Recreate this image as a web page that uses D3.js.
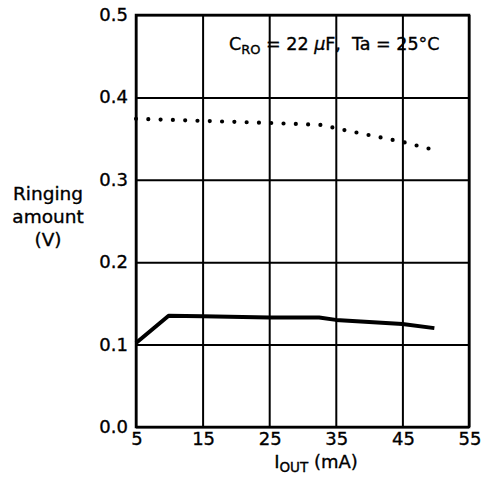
<!DOCTYPE html>
<html><head><meta charset="utf-8">
<script src="https://cdn.jsdelivr.net/npm/d3@7"></script>
<style>
body{margin:0;background:#fff;}
text{font-family:"DejaVu Sans",sans-serif;fill:#000;stroke:#000;stroke-width:0.35px;white-space:pre;}
</style></head>
<body>
<svg id="c" width="482" height="479"></svg>
<script>
const xTicks = [5, 15, 25, 35, 45, 55];
const yTicks = [0.0, 0.1, 0.2, 0.3, 0.4, 0.5];
const yTickLabels = ["0.0", "0.1", "0.2", "0.3", "0.4", "0.5"];
const solidX = [5, 9.9, 15, 25, 32.5, 35, 45, 49.8];
const solidY = [0.102, 0.135, 0.1345, 0.133, 0.133, 0.130, 0.125, 0.120];
const dotX = [5, 15, 25, 33, 35, 45, 49.9];
const dotY = [0.374, 0.3715, 0.369, 0.3665, 0.3625, 0.346, 0.336];

const svg = d3.select("#c");
const L = 136, R = 469, T = 15, B = 427;
const x = d3.scaleLinear().domain([5, 55]).range([L, R]);
const y = d3.scaleLinear().domain([0, 0.5]).range([B, T]);

// grid
const gx = svg.append("g").attr("transform", `translate(0,${B})`)
  .call(d3.axisBottom(x).tickValues(xTicks).tickSize(-(B - T)).tickFormat(""));
gx.select(".domain").remove();
gx.selectAll("line").attr("stroke", "#000").attr("stroke-width", 2);
const gy = svg.append("g").attr("transform", `translate(${L},0)`)
  .call(d3.axisLeft(y).tickValues(yTicks).tickSize(-(R - L)).tickFormat(""));
gy.select(".domain").remove();
gy.selectAll("line").attr("stroke", "#000").attr("stroke-width", 2);

svg.append("rect").attr("x", L).attr("y", T).attr("width", R - L).attr("height", B - T)
  .attr("fill", "none").attr("stroke", "#000").attr("stroke-width", 2.5);

// tick labels
svg.selectAll(".xl").data(xTicks).enter().append("text")
  .attr("x", d => x(d) + 1).attr("y", B + 18).attr("text-anchor", "middle")
  .attr("font-size", 18).text(d => d);
svg.selectAll(".yl").data(yTicks).enter().append("text")
  .attr("x", L - 8).attr("y", d => y(d) + 6).attr("text-anchor", "end")
  .attr("font-size", 18).text((d, i) => yTickLabels[i]);

// lines
const line = d3.line().x(d => x(d[0])).y(d => y(d[1]));
svg.append("path").datum(solidX.map((v, i) => [v, solidY[i]]))
  .attr("d", line).attr("fill", "none").attr("stroke", "#000").attr("stroke-width", 4)
  .attr("stroke-linejoin", "round");
svg.append("path").datum(dotX.map((v, i) => [v, dotY[i]]))
  .attr("d", line).attr("fill", "none").attr("stroke", "#000").attr("stroke-width", 4.2)
  .attr("stroke-linecap", "round").attr("stroke-dasharray", "0 12.3");

// annotation
const ann = svg.append("text").attr("x", 229).attr("y", 50).attr("font-size", 17.5);
ann.append("tspan").text("C");
ann.append("tspan").attr("font-size", 13).attr("dy", 4).text("RO");
ann.append("tspan").attr("dy", -4).text(" = 22 ");
ann.append("tspan").attr("font-style", "italic").text("μ");
ann.append("tspan").text("F,  Ta = 25°C");

// y label
const yl = svg.append("text").attr("text-anchor", "middle").attr("font-size", 18.5);
["Ringing", "amount", "(V)"].forEach((t, i) => {
  yl.append("tspan").attr("x", 48).attr("y", 200 + i * 23).text(t);
});

// x label
const xl = svg.append("text").attr("x", 316).attr("y", 468).attr("text-anchor", "middle").attr("font-size", 18);
xl.append("tspan").text("I");
xl.append("tspan").attr("font-size", 13.5).attr("dy", 4).text("OUT");
xl.append("tspan").attr("dy", -4).text(" (mA)");
</script>
</body></html>
